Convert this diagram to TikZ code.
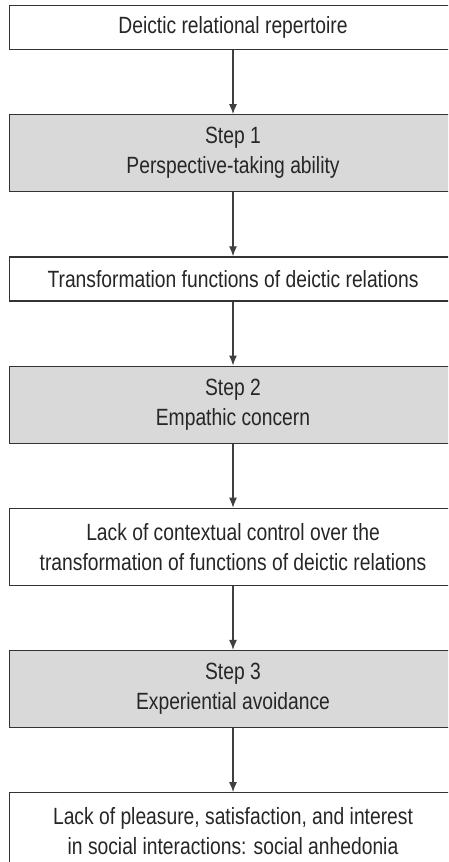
\documentclass[tikz,border=0pt]{standalone}
\usepackage{fontspec}
\setmainfont{Liberation Sans}[FakeStretch=0.82]
\usetikzlibrary{positioning, arrows.meta}

\begin{document}
\begin{tikzpicture}[
        x=1pt, y=1pt,
        node distance=64pt,
        box/.style={rectangle, draw=black!80, line width=1.2pt, fill=white, minimum width=447pt, minimum height=44pt, align=center, inner sep=0pt, font=\fontsize{23.5}{30}\selectfont, text=black!85},
        stepbox/.style={box, fill=black!15, minimum height=77pt},
        widebox/.style={box, minimum height=77pt},
        arrow/.style={-{Latex[length=10pt, width=8pt]}, line width=1.2pt, draw=black!75}
    ]
        \clip (0,0) rectangle (448,-862);
        % Nodes
        \node[box] (repertoire) at (233,-27.5) {Deictic relational repertoire};
        \node[stepbox, below=of repertoire] (step1) {Step 1\\Perspective-taking ability};
        \node[box, below=of step1] (transform) {Transformation functions of deictic relations};
        \node[stepbox, below=of transform] (step2) {Step 2\\Empathic concern};
        \node[widebox, below=of step2] (lackctrl) {Lack of contextual control over the\\transformation of functions of deictic relations};
        \node[stepbox, below=of lackctrl] (step3) {Step 3\\Experiential avoidance};
        \node[widebox, below=of step3] (anhedonia) {Lack of pleasure, satisfaction, and interest\\in social interactions: social anhedonia};

        % Paths
        \draw[arrow] (repertoire) -- (step1);
        \draw[arrow] (step1) -- (transform);
        \draw[arrow] (transform) -- (step2);
        \draw[arrow] (step2) -- (lackctrl);
        \draw[arrow] (lackctrl) -- (step3);
        \draw[arrow] (step3) -- (anhedonia);
    \end{tikzpicture}
\end{document}
